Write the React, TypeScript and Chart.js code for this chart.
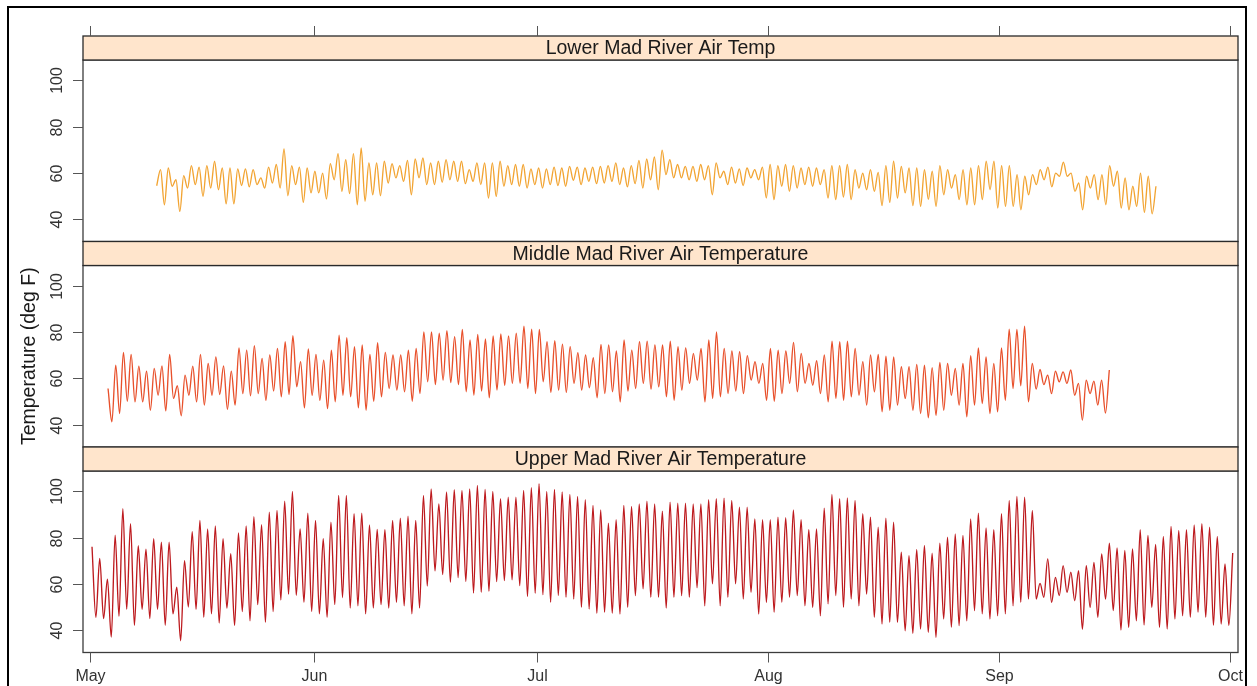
import React, { useEffect, useRef } from "react";
import { Chart, registerables } from "chart.js";

Chart.register(...registerables);

// ---------- data ----------
const monthLabels = ["May", "Jun", "Jul", "Aug", "Sep", "Oct"];
const monthTickDays = [0, 30, 60, 91, 122, 153]; // day offsets from May 1 where the month ticks sit
const yTickValues = [40, 60, 80, 100];
const panelTitles = [
  "Lower Mad River Air Temp",
  "Middle Mad River Air Temperature",
  "Upper Mad River Air Temperature",
];
const yAxisTitle = "Temperature (deg F)";

// first / last day (offset from May 1) of each record
const lowerSpan = [8.95, 143.06];
const middleSpan = [2.42, 136.8];
const upperSpan = [0.27, 153.36];

// successive daily turning points (highs and lows), deg F
const lowerTemps = [
  54.4, 61.4, 46.2, 62.1, 54.2, 57, 43.3, 58.8, 53.4, 63.1, 54.9, 62.5, 49.8, 63.1, 53.4, 65, 52.7, 62.1, 46.6, 62.1,
  46.6, 61.7, 54.5, 61.7, 53.9, 61.4, 54.9, 57.8, 53.4, 62.5, 55.6, 63.6, 53.4, 70.3, 50.1, 63.1, 54.9, 62.5, 47.2, 62.1,
  51.3, 60.7, 51.3, 59.9, 48.7, 64, 57, 68.3, 52, 65.7, 51, 68.3, 46.2, 70.8, 47.7, 64.3, 50.5, 64.3, 50.1, 65,
  55.6, 64, 57.8, 63.1, 56.3, 65.4, 50.5, 66, 57.8, 66.4, 54.9, 64.3, 54.9, 65, 55.9, 65.7, 57, 65, 56.3, 65,
  55.3, 61.4, 56.3, 64.3,
  54.9, 64.3, 49.1, 64.3, 49.8, 65, 54.2, 63.1, 54.9, 63.6, 54.2, 63.6, 53.4, 61.7, 54.9, 62.1, 53.4, 61.7, 54.9, 62.5,
  54.5, 62.1, 54.2, 62.8, 56.8, 62.5, 54.9, 62.1, 56.3, 62.5, 55.3, 62.8, 55.6, 63.1, 56.3, 64.3, 54.9, 62.1, 53.9, 63.1,
  55.3, 65.4, 53.4, 66, 57, 66.9, 52.7, 69.8, 59.2, 65.7, 57.8, 63.6, 57.8, 62.8, 57, 62.8, 56.3, 63.6, 57, 63.1,
  50.5, 64.3, 57.8, 60.7, 54.9, 62.5, 55.6, 61.7, 54.5, 62.1, 57.8, 61.4, 57, 62.5, 49.1, 63.6, 48.4, 63.1, 54.2, 63.6,
  52, 63.1, 53.4, 62.1, 54.9, 62.5, 54.2, 62.1, 54.9, 61.4, 49.1, 63.1, 48.4, 63.1, 49.5, 63.6, 48.4, 61.4, 53.4, 59.9,
  52.7, 61.4,
  52, 60.2, 45.8, 63.1, 47.2, 65, 49.1, 62.8, 51.3, 62.1, 45.8, 62.1, 45.5, 61.4, 48.5, 60.7, 45.5, 63.1, 50.5, 61.4,
  53.4, 59.2, 48.4, 61.4, 46.2, 62.1, 46.2, 63.1, 48.4, 65, 52.7, 65, 44.8, 63.1, 45.5, 63.1, 45.5, 59.2, 44, 58.5,
  50.5, 59.2, 54.9, 61.4, 57, 62.5, 53.9, 59.9, 58.5, 64.6, 58.5, 59.9, 52, 55.6, 44, 58.5, 53.4, 59.2, 48.4, 59.2,
  46.2, 63.1, 54.2, 60.7, 44.8, 57.8, 44, 54.2, 45.5, 59.9, 42.9, 58.5, 42.3, 54.2,
];

const middleTemps = [
  55.6, 41.2, 65.7, 44.8, 71.2, 50.1, 70.3, 49.8, 65.3, 49.8, 63.1, 46.2, 64.3, 52.7, 65.4, 45.9, 70.3, 51.3, 56.8, 43.8,
  61.4, 52.7, 65.3, 49.8, 70.3, 48.4, 66.4, 52.7, 69.3, 53, 65.4, 46.6, 63.1, 48.4, 73.2, 53.4, 72.2, 52.4, 74.1, 53.4,
  68.6, 50.5, 70.1, 54.5, 72.9, 52, 75.8, 53, 78.4, 56.3, 67.2, 47.2, 72.7, 52.7, 70.3, 50.5, 67.9, 46.9, 72.2, 49.8,
  78.7, 52.7, 77.6, 52, 73.7, 47.2, 74.5, 46.2, 70.3, 50.1, 75.4, 52, 71.2, 55.6, 70.1, 54.9, 70.1, 54.2, 72.2, 50.1,
  72.9, 53.4, 80.1, 58.5, 80.1, 57.3, 79.5, 59.2, 80.6, 58.2, 78, 57.3, 81.2, 54.2, 76.6, 52.7, 79, 54.5,
  77, 51.6, 78.3, 54.9, 79.2, 57, 78.3, 57.8, 79.5, 57.8, 82.6, 55.6, 81.3, 53.4, 81.2, 58.5, 75.8, 53.9, 76.3, 54.9,
  74.8, 53.9, 73.7, 57.8, 71.1, 54.9, 70.1, 55.9, 68.9, 51.6, 74.7, 53.4, 74.4, 54.2, 71.9, 49.8, 76.6, 54.5, 72.2, 55.6,
  75.8, 57.8, 76.1, 55.3, 74.4, 56.3, 74.4, 52, 76.1, 50.5, 73.7, 54.9, 73.2, 57.8, 70.8, 59.2, 72.9, 49.8, 76.6, 51.3,
  80.1, 52, 72.9, 53.4, 71.8, 54.5, 71.5, 53.4, 69.8, 59.2, 67.2, 57.8, 66.4, 50.5, 72.9, 50.1, 72.2, 53.4, 71.8, 57.8,
  75.5, 54.2, 70.8, 57.8, 66.4, 57, 67.6, 53.4, 70.1, 49.8, 76.1, 51.3, 75.8, 50.5, 76.1, 52, 72.9, 52.7, 67.2, 48.4,
  70.1, 54.2,
  70.3, 45.5, 69.6, 46.2, 69.3, 48.4, 65, 51.3, 65, 46.2, 66, 44.8, 65.7, 42.9, 64.6, 44, 66.9, 46.2, 66.4, 52.7,
  64.3, 48.4, 66.4, 43.3, 69.8, 48.4, 73.2, 49.1, 69.3, 44.8, 66.4, 45.5, 73.2, 50.5, 81.3, 55.6, 81.2, 56.8, 82.6, 49.8,
  66.4, 55.3, 63.8, 57.3, 61.4, 53.4, 63.1, 58.5, 62.8, 57.8, 63.6, 52.7, 57.8, 41.9, 59.2, 53.4, 58.8, 48.4, 59.2, 45,
  63.6,
];

const upperTemps = [
  76, 45.5, 71, 45, 62, 37, 81, 46, 92.5, 49, 86, 42, 76.5, 49, 75, 45, 79.5, 49, 78, 42,
  78, 47, 58.5, 35.4, 70, 50, 82.6, 49, 87.4, 45.5, 83.8, 47, 85, 43, 79.5, 49.5, 73, 42, 82, 48,
  85, 44, 89, 51, 85.6, 43.3, 91, 48, 91.7, 53, 95.8, 55.5, 100, 55, 83.8, 52, 90.6, 48, 87.4, 47,
  79.5, 45.5, 86.7, 51, 98.2, 54, 98.2, 49.5, 90.3, 50.5, 90.6, 47, 85.5, 49.5, 83.5, 51, 83.4, 49.5,
  87.4, 52, 88.4, 50.5, 89.3, 47, 87.4, 49.5, 98.2, 59, 101, 65.6, 94.6, 64, 99.7, 60.6, 100.7, 62.7,
  100.4, 61, 101, 56, 102.6, 56.3,
  100.8, 56.8, 100, 61, 96.8, 61.4, 97.5, 61.7, 97.5, 59.2, 100.4, 54.5, 101.6, 55.9, 103.3, 55.3, 100, 52, 100.8, 54.9,
  99.7, 54.2, 98.7, 53.4, 97.8, 49.8, 96.4, 49.1, 93.9, 47.2, 92, 47.7, 86.2, 47.2, 87.7, 46.9, 93.9, 49.8, 93.5, 54.9,
  94.6, 57.8, 95.8, 54.2, 94.6, 54.2, 91.4, 49.5, 95.3, 54.2, 94.9, 54.9, 94.9, 54.2, 94.6, 58.3, 94.6, 50.5, 96.4, 60,
  96.8, 50.5, 97.1, 54.2, 96.1, 60, 93.2, 53.4, 93.2, 56.3, 88.1, 46.9, 87.8, 52, 87.8, 47.7, 88.8, 52, 88.6, 54.2,
  92, 54.9, 87.7, 50.5, 83.4, 49.8, 83.8, 46.2, 92.7, 51.3, 98.7, 54.9, 96.8, 49.8, 97.2, 53.4, 96.1, 50.5, 90.3, 55.6,
  88.8, 45.5,
  84.5, 42.6, 88.4, 43.3, 86.7, 43.3, 73.7, 39.7, 72.2, 38.6, 74.9, 40.4, 76.6, 39, 73.3, 36.8, 77.6, 44.8, 80.2, 41.2,
  81.6, 41.9, 80.9, 44, 88.1, 48.4, 90.6, 47, 84.2, 44.8, 83.4, 46.2, 90.3, 47, 96.1, 50.5, 97.8, 52, 97.5, 53.4,
  91.7, 53.4, 60.2, 54.2, 70.8, 52, 62.8, 54.9, 67.9, 56.3, 65, 52.7, 65.7, 40.4, 67.9, 49.8, 69.3, 45.5, 72.9, 53.4,
  77.6, 48.4, 75.5, 40, 74.4, 41.2, 75.1, 44, 83.4, 42.2, 80.9, 49.8, 77, 41.2, 80.5, 40.4, 84.8, 44.8, 83.1, 46.2,
  83.4, 45.5, 85.5, 47.7, 86, 45.5, 84.5, 42, 80.5, 42.6, 68.6, 42, 73.3,
];

// ---------- layout / style ----------
const W = 1257;
const H = 686;
const PLOT_LEFT = 83;
const PLOT_RIGHT = 1238;
const STRIP_H = 24;
const panelBoxes = [
  { top: 60, bottom: 241.5 },
  { top: 265.5, bottom: 447 },
  { top: 471, bottom: 652.5 },
];
const lineColors = ["#F2A432", "#E8502B", "#BD1A1E"];
const STRIP_FILL = "#FFE5CC";
const FONT = "'Liberation Sans', Arial, Helvetica, sans-serif";
const X_MIN = -0.94;
const X_MAX = 154.07;
const Y_MIN = 30.3;
const Y_MAX = 108.8;

function toPoints(values: number[], span: number[]) {
  const n = values.length;
  const step = (span[1] - span[0]) / (n - 1);
  return values.map((v, i) => ({ x: span[0] + i * step, y: v }));
}

function makeDecor(index: number) {
  return {
    id: "latticeDecor" + index,
    afterDraw(chart: any) {
      const ctx = chart.ctx as CanvasRenderingContext2D;
      const { left, right, top, bottom } = chart.chartArea;
      const xs = chart.scales.x;
      const ys = chart.scales.y;
      ctx.save();

      // panel frame
      ctx.strokeStyle = "#3c3c3c";
      ctx.lineWidth = 1.3;
      ctx.strokeRect(left, top, right - left, bottom - top);

      // strip
      const sTop = top - STRIP_H;
      ctx.fillStyle = STRIP_FILL;
      ctx.fillRect(left, sTop, right - left, STRIP_H);
      ctx.strokeStyle = "#2a2a2a";
      ctx.lineWidth = 1.3;
      ctx.strokeRect(left, sTop, right - left, STRIP_H);
      ctx.fillStyle = "#1a1a1a";
      ctx.font = "19.5px " + FONT;
      ctx.textAlign = "center";
      ctx.textBaseline = "middle";
      ctx.fillText(panelTitles[index], (left + right) / 2, sTop + STRIP_H / 2 + 1);

      // y ticks + rotated labels
      ctx.strokeStyle = "#555";
      ctx.lineWidth = 1;
      ctx.fillStyle = "#333";
      ctx.font = "16px " + FONT;
      yTickValues.forEach((v) => {
        const y = Math.round(ys.getPixelForValue(v)) + 0.5;
        ctx.beginPath();
        ctx.moveTo(left - 10, y);
        ctx.lineTo(left, y);
        ctx.stroke();
        ctx.save();
        ctx.translate(58, y);
        ctx.rotate(-Math.PI / 2);
        ctx.textAlign = "center";
        ctx.textBaseline = "middle";
        ctx.fillText(String(v), 0, 0);
        ctx.restore();
      });

      // x ticks
      if (index === 0) {
        monthTickDays.forEach((d) => {
          const x = Math.round(xs.getPixelForValue(d)) + 0.5;
          ctx.beginPath();
          ctx.moveTo(x, sTop - 10);
          ctx.lineTo(x, sTop);
          ctx.stroke();
        });
      }
      if (index === 2) {
        ctx.textAlign = "center";
        ctx.textBaseline = "middle";
        monthTickDays.forEach((d, i) => {
          const x = Math.round(xs.getPixelForValue(d)) + 0.5;
          ctx.beginPath();
          ctx.moveTo(x, bottom);
          ctx.lineTo(x, bottom + 10);
          ctx.stroke();
          ctx.fillText(monthLabels[i], x, bottom + 24);
        });
      }

      // shared y axis title
      if (index === 1) {
        ctx.save();
        ctx.translate(30, (top + bottom) / 2);
        ctx.rotate(-Math.PI / 2);
        ctx.fillStyle = "#1a1a1a";
        ctx.font = "19.5px " + FONT;
        ctx.textAlign = "center";
        ctx.textBaseline = "middle";
        ctx.fillText(yAxisTitle, 0, 0);
        ctx.restore();
      }
      ctx.restore();
    },
  };
}

export default function App() {
  const c0 = useRef<HTMLCanvasElement>(null);
  const c1 = useRef<HTMLCanvasElement>(null);
  const c2 = useRef<HTMLCanvasElement>(null);

  useEffect(() => {
    const canvases = [c0.current, c1.current, c2.current];
    const series = [
      toPoints(lowerTemps, lowerSpan),
      toPoints(middleTemps, middleSpan),
      toPoints(upperTemps, upperSpan),
    ];
    const charts = canvases.map((cv, i) => {
      const box = panelBoxes[i];
      return new Chart(cv as HTMLCanvasElement, {
        type: "line",
        data: {
          datasets: [
            {
              data: series[i],
              borderColor: lineColors[i],
              borderWidth: 1.35,
              pointRadius: 0,
              fill: false,
              cubicInterpolationMode: "monotone",
            },
          ],
        },
        options: {
          animation: false,
          responsive: false,
          events: [],
          layout: {
            padding: { left: PLOT_LEFT, right: W - PLOT_RIGHT, top: box.top, bottom: H - box.bottom },
          },
          scales: {
            x: { type: "linear", display: false, min: X_MIN, max: X_MAX },
            y: { type: "linear", display: false, min: Y_MIN, max: Y_MAX },
          },
          plugins: { legend: { display: false }, tooltip: { enabled: false } },
        },
        plugins: [makeDecor(i)],
      } as any);
    });
    return () => charts.forEach((c) => c.destroy());
  }, []);

  const cvStyle: React.CSSProperties = { position: "absolute", left: 0, top: 0, width: W, height: H };
  return (
    <div style={{ position: "fixed", left: 0, top: 0, width: W, height: H, background: "#fff", overflow: "hidden" }}>
      <div
        style={{
          position: "absolute",
          left: 7,
          top: 6,
          width: 1240,
          height: 720,
          border: "2px solid #000",
          boxSizing: "border-box",
        }}
      />
      <canvas ref={c0} width={W} height={H} style={cvStyle} />
      <canvas ref={c1} width={W} height={H} style={cvStyle} />
      <canvas ref={c2} width={W} height={H} style={cvStyle} />
    </div>
  );
}
